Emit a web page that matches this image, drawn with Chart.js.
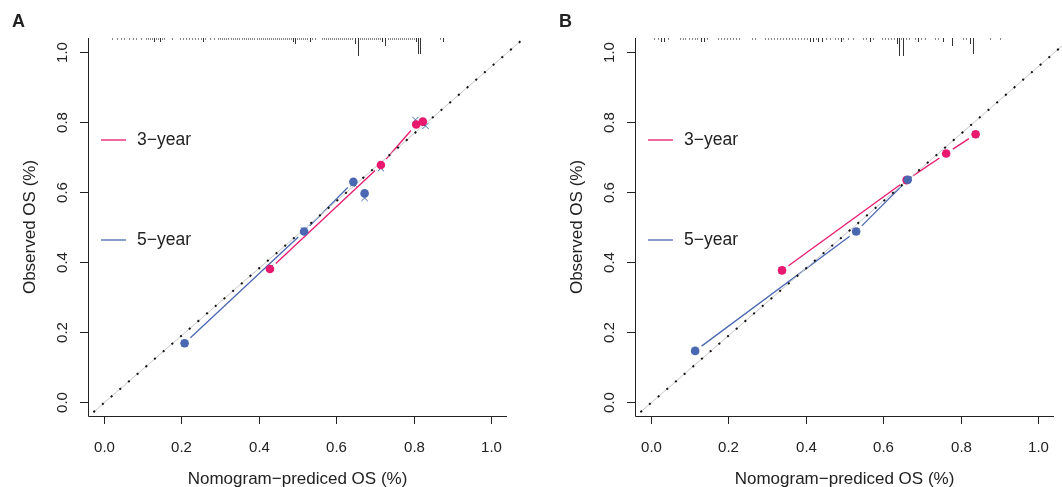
<!DOCTYPE html>
<html>
<head>
<meta charset="utf-8">
<script src="https://cdn.jsdelivr.net/npm/chart.js@4"></script>
<style>
  body { margin: 0; background: #fff; }
  #wrap { position: relative; width: 1062px; height: 487px; overflow: hidden; }
  canvas { position: absolute; top: 0; }
</style>
</head>
<body>
<div id="wrap">
  <canvas id="panelA" width="547" height="487" style="left:0"></canvas>
  <canvas id="panelB" width="515" height="487" style="left:547px"></canvas>
</div>
<script>
const xTicks = [0, 0.2, 0.4, 0.6, 0.8, 1.0];
const yTicks = [0, 0.2, 0.4, 0.6, 0.8, 1.0];
const seriesNames = ["3\u2212year", "5\u2212year"];

// ideal line (dotted)
const idealX = [-0.026, 1.075];
const idealY = [-0.029, 1.031];

// panel A
const a3Pred = [0.429, 0.715, 0.806, 0.823];
const a3Obs = [0.380, 0.677, 0.793, 0.801];
const a5Pred = [0.209, 0.517, 0.644, 0.673];
const a5Obs = [0.168, 0.487, 0.629, 0.596];
const aCorrPred = [0.209, 0.517, 0.644, 0.673, 0.429, 0.715, 0.804, 0.830];
const aCorrObs = [0.168, 0.490, 0.625, 0.583, 0.383, 0.668, 0.806, 0.789];
const aRug = [0.023, 0.034, 0.044, 0.054, 0.065, 0.075, 0.085, 0.096,
  0.109, 0.114, 0.119, 0.124, 0.129, 0.134, 0.140, 0.145, 0.150, 0.155,
  0.176, 0.196, 0.204, 0.212, 0.220, 0.227, 0.235, 0.243, 0.250, 0.256, 0.261,
  0.274, 0.284, 0.295, 0.300, 0.306, 0.311, 0.316, 0.322, 0.328, 0.333, 0.339,
  0.344, 0.350, 0.356, 0.362, 0.367, 0.372, 0.378, 0.383, 0.389, 0.395, 0.400,
  0.406, 0.411, 0.416, 0.421, 0.426, 0.431, 0.436, 0.442, 0.447, 0.452, 0.457,
  0.463, 0.468, 0.473, 0.478, 0.483, 0.488, 0.494, 0.499, 0.504, 0.509, 0.514,
  0.519, 0.525, 0.532, 0.537, 0.545, 0.563, 0.568, 0.573, 0.578, 0.584, 0.589,
  0.594, 0.599, 0.604, 0.610, 0.615, 0.620, 0.625, 0.630, 0.636, 0.641, 0.647,
  0.655, 0.660, 0.667, 0.672, 0.677, 0.682, 0.687, 0.692, 0.697, 0.703, 0.708,
  0.713, 0.718, 0.726, 0.734, 0.739, 0.744, 0.749, 0.754, 0.760, 0.765, 0.770,
  0.775, 0.780, 0.786, 0.791, 0.796, 0.801, 0.806, 0.811, 0.817, 0.868, 0.875];
const aRugCount = [1, 1, 1, 1, 1, 1, 1, 1,
  1, 1, 1, 1, 2, 1, 1, 2, 1, 1,
  1, 1, 1, 1, 1, 1, 1, 1, 1, 2, 1,
  1, 1, 1, 1, 1, 1, 1, 1, 1, 1, 1,
  1, 1, 1, 1, 1, 1, 1, 1, 1, 1, 1,
  1, 1, 1, 1, 1, 1, 1, 1, 1, 1, 1,
  1, 1, 1, 1, 1, 2, 3, 1, 1, 1, 1,
  1, 1, 2, 1, 1, 1, 1, 1, 1, 1, 1,
  1, 1, 1, 1, 1, 1, 1, 1, 1, 1, 3,
  9, 1, 1, 1, 1, 1, 1, 1, 1, 1, 1,
  1, 2, 4, 1, 1, 1, 1, 1, 1, 1, 1,
  1, 1, 1, 1, 1, 1, 2, 8, 8, 1, 2];

// panel B
const b3Pred = [0.339, 0.660, 0.762, 0.838];
const b3Obs = [0.376, 0.634, 0.710, 0.765];
const b5Pred = [0.115, 0.530, 0.663];
const b5Obs = [0.146, 0.487, 0.635];
const bCorrPred = [0.115, 0.530, 0.663, 0.339, 0.660, 0.762, 0.838];
const bCorrObs = [0.146, 0.487, 0.635, 0.376, 0.634, 0.710, 0.765];
const bRug = [0.010, 0.018, 0.026, 0.036, 0.044,
  0.075, 0.083, 0.090, 0.098, 0.106, 0.114, 0.121, 0.129, 0.137, 0.145,
  0.173, 0.181, 0.189, 0.196, 0.204, 0.212, 0.220, 0.227, 0.261, 0.269,
  0.295, 0.302, 0.310, 0.318, 0.326, 0.333, 0.341, 0.349, 0.357, 0.364,
  0.372, 0.380, 0.388, 0.395, 0.403, 0.411, 0.419, 0.426, 0.432, 0.442,
  0.452, 0.463, 0.475, 0.483, 0.491, 0.496, 0.509, 0.522, 0.548, 0.556,
  0.566, 0.574, 0.597, 0.605, 0.612, 0.620, 0.628, 0.636, 0.641, 0.646,
  0.651, 0.659, 0.667, 0.682, 0.690, 0.698, 0.708, 0.734, 0.742, 0.755,
  0.778, 0.806, 0.814, 0.824, 0.832, 0.876, 0.902];
const bRugCount = [1, 1, 2, 2, 1,
  1, 1, 1, 1, 1, 1, 1, 2, 2, 1,
  1, 1, 1, 1, 1, 1, 1, 1, 1, 1,
  1, 1, 1, 1, 1, 1, 1, 1, 1, 1,
  1, 1, 1, 1, 1, 2, 2, 1, 2, 2,
  1, 1, 1, 1, 2, 1, 1, 1, 1, 1,
  2, 1, 1, 1, 1, 1, 1, 3, 9, 1,
  9, 1, 1, 1, 2, 1, 1, 1, 1, 2,
  4, 1, 1, 3, 8, 1, 1];

const pink = "#e8196f";
const blue = "#4a68b2";
const font = "'Liberation Sans', Arial, Helvetica, sans-serif";

const toPts = (xs, ys) => xs.map((v, i) => ({ x: v, y: ys[i] }));

// lines between points with a gap around each symbol
const gapLines = {
  id: "gapLines",
  beforeDatasetsDraw(chart) {
    const ctx = chart.ctx;
    const gap = 8;
    ctx.save();
    chart.data.datasets.forEach((ds, di) => {
      if (!ds.gapLine) return;
      const pts = chart.getDatasetMeta(di).data;
      ctx.strokeStyle = ds.borderColor;
      ctx.lineWidth = 1.3;
      for (let i = 0; i < pts.length - 1; i++) {
        const p = pts[i], q = pts[i + 1];
        const dx = q.x - p.x, dy = q.y - p.y;
        const len = Math.hypot(dx, dy);
        if (len <= 2 * gap) continue;
        const ux = dx / len, uy = dy / len;
        ctx.beginPath();
        ctx.moveTo(p.x + ux * gap, p.y + uy * gap);
        ctx.lineTo(q.x - ux * gap, q.y - uy * gap);
        ctx.stroke();
      }
    });
    ctx.restore();
  }
};

// L-shaped frame, ticks, labels, rug and legend
const frame = {
  id: "frame",
  afterDraw(chart, args, opts) {
    const { ctx, chartArea: ca, scales: { x, y } } = chart;
    ctx.save();
    ctx.strokeStyle = "#222";
    ctx.fillStyle = "#222";
    ctx.lineWidth = 1;
    ctx.beginPath();
    ctx.moveTo(ca.left + 0.5, ca.top);
    ctx.lineTo(ca.left + 0.5, ca.bottom + 0.5);
    ctx.lineTo(ca.right, ca.bottom + 0.5);
    ctx.stroke();

    ctx.font = "15px " + font;
    ctx.textAlign = "center";
    ctx.textBaseline = "middle";
    xTicks.forEach(v => {
      const px = Math.round(x.getPixelForValue(v)) + 0.5;
      ctx.beginPath();
      ctx.moveTo(px, ca.bottom);
      ctx.lineTo(px, ca.bottom + 8);
      ctx.stroke();
      ctx.fillText(v.toFixed(1), px, ca.bottom + 32);
    });
    yTicks.forEach(v => {
      const py = Math.round(y.getPixelForValue(v)) + 0.5;
      ctx.beginPath();
      ctx.moveTo(ca.left - 8, py);
      ctx.lineTo(ca.left, py);
      ctx.stroke();
      ctx.save();
      ctx.translate(ca.left - 25, py);
      ctx.rotate(-Math.PI / 2);
      ctx.fillText(v.toFixed(1), 0, 0);
      ctx.restore();
    });

    ctx.font = "17px " + font;
    ctx.fillText("Nomogram\u2212prediced OS (%)", (ca.left + ca.right) / 2, ca.bottom + 63);
    ctx.save();
    ctx.translate(ca.left - 58, (ca.top + ca.bottom) / 2);
    ctx.rotate(-Math.PI / 2);
    ctx.fillText("Observed OS (%)", 0, 0);
    ctx.restore();

    ctx.font = "bold 18px " + font;
    ctx.textAlign = "left";
    ctx.fillText(opts.letter, opts.letterX, 22);

    // spike histogram of predicted values
    opts.rug.forEach((v, i) => {
      const n = opts.rugCount[i];
      const px = Math.round(x.getPixelForValue(v)) + 0.5;
      ctx.strokeStyle = n > 1 ? "#333" : "#888";
      ctx.beginPath();
      ctx.moveTo(px, ca.top);
      ctx.lineTo(px, ca.top + 2 * n);
      ctx.stroke();
    });

    // legend
    ctx.font = "17.5px " + font;
    ctx.lineWidth = 1.3;
    [pink, blue].forEach((c, i) => {
      const ly = 140 + i * 100;
      ctx.strokeStyle = c;
      ctx.beginPath();
      ctx.moveTo(ca.left + 13, ly);
      ctx.lineTo(ca.left + 38, ly);
      ctx.stroke();
      ctx.fillStyle = "#222";
      ctx.fillText(seriesNames[i], ca.left + 49, ly);
    });
    ctx.restore();
  }
};

function makePanel(id, letter, p3, o3, p5, o5, cp, co, rug, rugCount, padRight) {
  return new Chart(document.getElementById(id), {
    type: "scatter",
    data: {
      datasets: [
        {
          data: toPts(idealX, idealY),
          showLine: true, pointRadius: 0, borderColor: "#c8c8c8", borderWidth: 1,
          clip: false, order: 6
        },
        {
          data: toPts(idealX, idealY),
          showLine: true, pointRadius: 0, borderColor: "#111", borderWidth: 2,
          borderDash: [2, 9.5], borderCapStyle: "butt", clip: false, order: 5
        },
        {
          data: toPts(cp, co),
          pointStyle: "crossRot", pointRadius: 4.5, borderColor: blue, borderWidth: 1,
          order: 4
        },
        {
          data: toPts(p3, o3), gapLine: true,
          pointRadius: 4.3, backgroundColor: pink, borderColor: pink, borderWidth: 0, order: 3
        },
        {
          data: toPts(p5, o5), gapLine: true,
          pointRadius: 4.3, backgroundColor: blue, borderColor: blue, borderWidth: 0, order: 2
        }
      ]
    },
    options: {
      responsive: false,
      animation: false,
      devicePixelRatio: 1,
      layout: { padding: { left: 88, right: padRight, top: 38, bottom: 71 } },
      scales: {
        x: { type: "linear", min: -0.04, max: 1.04, display: false },
        y: { type: "linear", min: -0.04, max: 1.04, display: false }
      },
      plugins: {
        legend: { display: false },
        tooltip: { enabled: false },
        frame: { letter: letter, letterX: 12, rug: rug, rugCount: rugCount }
      }
    },
    plugins: [gapLines, frame]
  });
}

makePanel("panelA", "A", a3Pred, a3Obs, a5Pred, a5Obs, aCorrPred, aCorrObs, aRug, aRugCount, 40);
makePanel("panelB", "B", b3Pred, b3Obs, b5Pred, b5Obs, bCorrPred, bCorrObs, bRug, bRugCount, 8);
</script>
</body>
</html>
